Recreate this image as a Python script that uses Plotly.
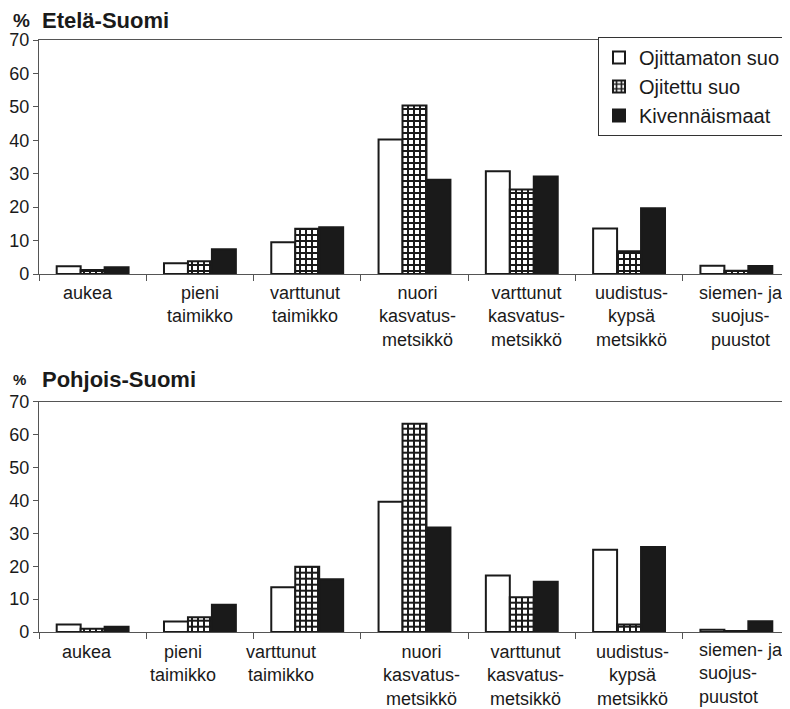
import plotly.graph_objects as go

# ---------------- data ----------------
categories = ["aukea", "pieni taimikko", "varttunut taimikko",
              "nuori kasvatusmetsikkö", "varttunut kasvatusmetsikkö",
              "uudistuskypsä metsikkö", "siemen- ja suojuspuustot"]
tick_labels = ["aukea", "pieni<br>taimikko", "varttunut<br>taimikko",
               "nuori<br>kasvatus-<br>metsikkö", "varttunut<br>kasvatus-<br>metsikkö",
               "uudistus-<br>kypsä<br>metsikkö", "siemen- ja<br>suojus-<br>puustot"]
series_names = ["Ojittamaton suo", "Ojitettu suo", "Kivennäismaat"]

# Etelä-Suomi (%)
etela_ojittamaton = [2.3, 3.2, 9.5, 40.2, 30.7, 13.6, 2.5]
etela_ojitettu = [1.2, 3.8, 13.5, 50.4, 25.3, 6.8, 1.0]
etela_kivennais = [2.0, 7.4, 14.0, 28.2, 29.2, 19.7, 2.4]

# Pohjois-Suomi (%)
pohjois_ojittamaton = [2.3, 3.2, 13.6, 39.6, 17.2, 25.0, 0.7]
pohjois_ojitettu = [1.0, 4.5, 19.8, 63.3, 10.6, 2.3, 0.3]
pohjois_kivennais = [1.6, 8.3, 16.0, 31.8, 15.3, 25.8, 3.3]

titles = ["Etelä-Suomi", "Pohjois-Suomi"]
y_ticks = [0, 10, 20, 30, 40, 50, 60, 70]

# ---------------- styles ----------------
FONT = "Liberation Sans, Arial, Helvetica, sans-serif"
INK = "#1a1a1a"
AXIS = "#555555"

# the page body has an 8px margin; work in window pixels and subtract it
OFF = 8
W, H = 790 - OFF, 709 - OFF
PL, PR, PT, PB = 39, 790, 40, 632          # plot area in window pixels
ML, MR, MT, MB = PL - OFF, 790 - PR, PT - OFF, 709 - PB
plot_h = H - MT - MB
plot_w = W - ML - MR


def fy(win_y):  # window pixel y -> paper y
    return (PB - win_y) / plot_h


def fx(win_x):  # window pixel x -> paper x
    return (win_x - PL) / plot_w


def marker_for(i):
    line = dict(color=INK, width=2)
    if i == 0:
        return dict(color="white", line=line)
    if i == 1:
        return dict(color="white", line=line,
                    pattern=dict(shape="+", fgcolor=INK, bgcolor="white",
                                 size=6, solidity=0.55, fillmode="replace"))
    return dict(color=INK, line=line)


fig = go.Figure()

panels = [
    ("x", "y", [etela_ojittamaton, etela_ojitettu, etela_kivennais], True),
    ("x2", "y2", [pohjois_ojittamaton, pohjois_ojitettu, pohjois_kivennais], False),
]
for xa, ya, vals, show in panels:
    for i, (name, v) in enumerate(zip(series_names, vals)):
        fig.add_trace(go.Bar(x=categories, y=v, name=name, xaxis=xa, yaxis=ya,
                             marker=marker_for(i), showlegend=show,
                             legendgroup=name))

common_x = dict(type="category", categoryorder="array", categoryarray=categories,
                showticklabels=False, ticks="outside", tickson="boundaries",
                ticklen=6, tickcolor=AXIS, tickwidth=1,
                showline=True, linecolor=AXIS, linewidth=1.2, mirror=True,
                showgrid=False, zeroline=False, fixedrange=True)
common_y = dict(range=[0, 70], tickvals=y_ticks, ticks="outside", ticklen=5,
                tickcolor=AXIS, tickwidth=1, showline=True, linecolor=AXIS,
                linewidth=1.2, showgrid=False, zeroline=False,
                tickfont=dict(size=18, color=INK, family=FONT))

fig.update_layout(
    width=W, height=H,
    margin=dict(l=ML, r=MR, t=MT, b=MB, pad=0),
    paper_bgcolor="white", plot_bgcolor="white",
    font=dict(family=FONT, color=INK),
    barmode="group", bargap=0.33, bargroupgap=0,
    xaxis=dict(domain=[0, 1], anchor="y", **common_x),
    yaxis=dict(domain=[fy(274), 1], anchor="x", **common_y),
    xaxis2=dict(domain=[0, 1], anchor="y2", **common_x),
    yaxis2=dict(domain=[0, fy(401.7)], anchor="x2", **common_y),
    legend=dict(x=fx(786), y=fy(37), xanchor="right", yanchor="top",
                bordercolor="#333333", borderwidth=1, bgcolor="white",
                font=dict(size=20, color=INK, family=FONT),
                tracegroupgap=0, itemsizing="constant"),
    showlegend=True,
)

annotations = []
# panel titles
title_rows = [(20, 19), (379, 15)]
for (ypx, pct_size), t in zip(title_rows, titles):
    annotations.append(dict(xref="paper", yref="paper", x=fx(11), y=fy(ypx),
                            xanchor="left", yanchor="middle", showarrow=False,
                            text="<b>%</b>", font=dict(size=pct_size, color=INK, family=FONT)))
    annotations.append(dict(xref="paper", yref="paper", x=fx(40), y=fy(ypx),
                            xanchor="left", yanchor="middle", showarrow=False,
                            text="<b>" + t + "</b>", font=dict(size=22, color=INK, family=FONT)))

# category labels
top_shift = [-5, 0, -2, 3, 5, 2, 5]
bottom_shift = [-6, -17, -26, 7, 4, 3, 0]
for i, lab in enumerate(tick_labels):
    annotations.append(dict(xref="x", yref="y domain", x=i, y=0, yanchor="top",
                            xanchor="center", xshift=top_shift[i], yshift=-7,
                            showarrow=False, text=lab, align="center",
                            font=dict(size=18, color=INK, family=FONT)))
    if i == len(tick_labels) - 1:
        annotations.append(dict(xref="paper", yref="y2 domain", x=fx(697), y=0,
                                yanchor="top", xanchor="left", yshift=-6,
                                showarrow=False, text=lab, align="left",
                                font=dict(size=18, color=INK, family=FONT)))
    else:
        annotations.append(dict(xref="x2", yref="y2 domain", x=i, y=0, yanchor="top",
                                xanchor="center", xshift=bottom_shift[i], yshift=-8,
                                showarrow=False, text=lab, align="center",
                                font=dict(size=18, color=INK, family=FONT)))

fig.update_layout(annotations=annotations)

fig.write_html("out.html")
